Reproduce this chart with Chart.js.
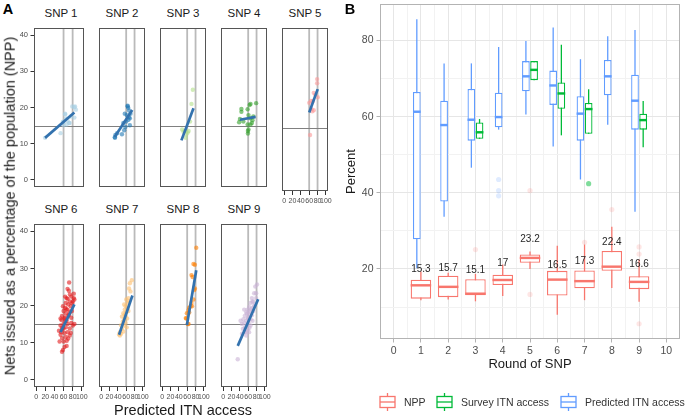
<!DOCTYPE html>
<html><head><meta charset="utf-8">
<script src="https://cdn.jsdelivr.net/npm/chart.js@4.4.1/dist/chart.umd.min.js"></script>
<style>
html,body{margin:0;padding:0;background:#fff;}
body{width:685px;height:416px;position:relative;overflow:hidden;font-family:"Liberation Sans",Arial,Helvetica,sans-serif;}
canvas{position:absolute;}
.t{position:absolute;white-space:nowrap;line-height:1;color:#1a1a1a;}
</style></head><body>
<script>
// ---------------- Panel A data ----------------
const snpNames = ['SNP 1','SNP 2','SNP 3','SNP 4','SNP 5','SNP 6','SNP 7','SNP 8','SNP 9'];
const snpColors = ['#a6cee3','#1f78b4','#b2df8a','#33a02c','#fb9a99','#e31a1c','#fdbf6f','#ff7f00','#cab2d6'];
const snp1X = [19.3,53.4,58.7,60.1,66.8,72.3,63.5,65.6,75.8,79.1,83.8,87.2,83.8,68.9,63.5,85.2,60.0,73.3];
const snp1Y = [11.6,12.9,16.1,15.1,15.3,15.7,18.1,17.0,17.5,20.3,20.1,19.4,17.2,16.3,18.3,20.3,16.0,15.7];
const snp2X = [32.8,34.2,38.3,49.9,55.2,58.0,63.4,64.8,56.6,66.8,68.8,65.4,60.1,68.8,70.3,53.2,61.3,66.8,63.8,33.2];
const snp2Y = [11.8,12.4,12.9,12.6,13.7,14.6,20.5,19.9,18.3,17.4,17.0,16.6,16.1,15.1,18.3,15.7,17.9,19.2,20.3,11.6];
const snp3X = [73.5,70.3,66.8,47.9,54.6,61.3,58.0,63.4,56.6,51.1];
const snp3Y = [24.9,21.0,16.1,13.9,13.5,13.1,12.6,13.5,11.6,13.3];
const snp4X = [43.8,43.8,40.3,38.3,58.7,63.5,65.6,79.0,60.7,65.6,70.3,68.8,58.7,65.6,60.7,59.4,48.5,72.3,59.4];
const snp4Y = [19.6,18.8,16.8,15.9,19.5,20.7,21.0,21.2,17.9,17.0,16.5,15.7,15.3,15.3,13.9,12.8,16.1,17.5,13.5];
const snp5X = [79.0,79.0,70.9,74.3,80.4,64.1,60.1,68.8,65.4,70.9,62.1,67.4];
const snp5Y = [28.2,27.1,24.5,24.0,23.3,22.3,21.8,22.3,20.1,19.8,13.1,19.5];
const snp6X = [72.3,68.8,71.7,66.8,77.0,82.5,83.9,80.4,73.7,64.8,70.3,75.8,63.5,68.8,60.1,73.7,64.8,56.6,70.3,62.1,55.4,66.8,77.0,80.4,60.1,53.4,64.8,73.7,56.6,49.9,68.8,62.1,53.4,73.7,64.8,56.6,51.3,60.1,70.3,66.8,62.1,58.7,56.6,53.4,83.9,77.0,78.4,82.5,63.5,58.7,75.8,68.8,63.5,66.0,72.0,60.0,74.0,69.0,57.0,63.0,79.0,55.0,67.0];
const snp6Y = [26.2,24.5,24.0,22.0,22.4,23.2,21.6,21.1,21.1,20.7,20.3,19.8,19.4,18.9,18.5,18.2,17.9,17.2,17.2,16.5,16.1,15.9,15.3,14.6,15.0,14.6,14.1,13.8,13.5,13.2,12.8,12.6,12.1,11.9,11.5,11.2,10.3,10.3,11.1,9.1,8.8,8.0,7.5,16.5,15.0,16.7,18.5,22.0,22.4,19.8,12.6,15.0,15.9,19.0,17.5,13.8,23.0,21.8,14.0,16.8,20.6,12.8,10.5];
const snp7X = [73.5,68.8,66.8,70.3,65.4,60.1,63.4,58.7,63.4,56.6,60.1,53.2,58.7,49.9,55.2,62.1,51.9,58.7,47.9,54.6,49.9,45.0,53.2,43.0,47.9,45.0,65.4,56.6,61.3,66.8,55.2];
const snp7Y = [26.8,26.0,24.6,23.8,22.0,21.6,20.7,19.8,19.4,18.9,18.2,17.9,17.2,17.0,16.3,16.5,15.6,15.3,14.7,14.6,13.7,12.8,13.0,12.2,12.4,11.9,18.5,17.6,14.1,21.1,20.3];
const snp8X = [81.7,75.0,78.4,70.3,72.9,78.4,77.0,75.0,70.3,68.2,64.8,63.3,59.3,58.0,61.3,71.5,64.8,56.6,63.3];
const snp8Y = [35.6,31.2,31.0,28.2,27.7,24.6,24.2,21.6,20.7,19.8,19.4,18.8,17.9,16.5,15.0,19.8,18.1,16.6,15.0];
const snp9X = [81.1,77.0,74.3,68.8,79.0,72.3,65.6,75.8,62.1,70.3,58.7,65.6,55.4,62.1,68.8,52.0,58.7,48.5,65.6,55.4,60.7,50.5,45.2,56.6,65.6,52.0,47.3,58.7,54.0,62.1,45.2,55.4,35.0,72.3,79.0,70.3,50.5,41.8,60.0,67.0,63.0,57.0,70.0,53.0,74.0,61.0];
const snp9Y = [25.7,25.1,23.3,22.0,22.0,21.1,20.7,20.3,19.6,19.4,18.9,18.5,18.1,17.6,17.4,17.2,16.7,16.3,16.3,15.9,15.4,15.3,15.0,14.7,14.6,14.1,13.7,13.5,12.8,12.8,12.4,11.9,5.5,18.5,23.3,15.9,18.9,15.9,16.5,19.0,14.0,17.8,21.0,13.0,19.8,18.2];
// fitted lines: [x start, y start, x end, y end]
const fitLines = [[19.3,11.6,83.8,18.6],[32.8,11.9,74.5,19.3],[46.2,10.9,75.1,19.8],[40.3,16.6,77.8,17.4],[60.1,19.2,80.4,25.5],[53.4,12.8,83.9,20.3],[43.0,12.1,74.9,22.7],[59.3,14.7,81.7,29.5],[35.0,9.1,83.9,21.7]];
const aXTicks = [0,20,40,60,80,100];
const aYTicks = [0,10,20,30,40];
const accessRefs = [60,80];
const nppRef = 15;

// ---------------- Panel B data ----------------
const rounds = [1,2,3,4,5,6,7,8,9];
const nppLow  = [11.8,12.0,11.5,12.9,20.0,8.0,11.8,15.0,11.4];
const nppQ1   = [12.2,12.6,13.1,15.8,21.6,13.0,14.9,19.5,14.7];
const nppMed  = [15.7,15.3,13.5,17.1,22.9,17.2,16.8,20.6,16.6];
const nppQ3   = [17.15,18.2,17.3,18.5,23.8,19.5,19.6,24.7,18.1];
const nppHigh = [19.3,19.0,18.7,21.2,24.6,26.1,26.4,31.1,22.5];
const nppMean = [15.3,15.7,15.1,17,23.2,16.5,17.3,22.4,16.6];
const predLow  = [20.2,33.7,46.6,56.6,60.6,52.2,43.5,57.9,35.0];
const predQ1   = [27.8,37.7,53.7,57.2,66.7,63.1,53.7,65.6,56.6];
const predMed  = [61.3,57.8,59.2,59.9,70.6,68.2,60.8,70.6,64.2];
const predQ3   = [66.5,64.2,67.3,66.3,74.6,72.1,65.4,74.9,71.0];
const predHigh = [85.6,74.0,74.0,78.3,79.9,83.4,75.1,81.1,82.8];
const survRounds = [3,5,6,7,9];
const survLow  = [54.2,69.6,55.1,55.5,52.0];
const survQ1   = [54.2,69.6,62.1,55.5,56.6];
const survMed  = [55.9,72.3,66.1,62.0,59.1];
const survQ3   = [58.5,74.6,69.0,63.6,60.8];
const survHigh = [59.4,74.6,78.9,67.2,64.1];
const nppOutRound = [3,5,5,7,8,9,9,9];
const nppOutVal   = [25.1,13.3,40.6,27.0,35.6,25.8,23.9,5.6];
const predOutRound = [4,4,4];
const predOutVal   = [43.5,40.6,39.2];
const survOutRound = [7];
const survOutVal   = [42.4];
const bXTicks = [0,1,2,3,4,5,6,7,8,9,10];
const bYTicks = [20,40,60,80];
const bYMinor = [10,30,50,70];
const legendNames = ['NPP','Survey ITN access','Predicted ITN access'];
const groupColors = ['#F8766D','#00BA38','#619CFF'];

// ---------------- helpers ----------------
Chart.defaults.font.family = '"Liberation Sans", Arial, sans-serif';
Chart.defaults.animation = false;
function rgba(hex,a){const n=parseInt(hex.slice(1),16);return `rgba(${n>>16&255},${n>>8&255},${n&255},${a})`;}
function txt(s,cx,cy,size,extra){
  const d=document.createElement('div');d.className='t';d.textContent=s;
  d.style.fontSize=size+'px';d.style.left=cx+'px';d.style.top=cy+'px';
  d.style.transform='translate(-50%,-50%)'+(extra&&extra.rot?' rotate(-90deg)':'');
  if(extra&&extra.bold)d.style.fontWeight='bold';
  if(extra&&extra.color)d.style.color=extra.color;
  document.body.appendChild(d);return d;
}
function mkCanvas(l,t,w,h){const c=document.createElement('canvas');c.width=w;c.height=h;c.style.left=l+'px';c.style.top=t+'px';c.style.width=w+'px';c.style.height=h+'px';document.body.appendChild(c);return c;}

// ---------------- Panel A ----------------
const panelLeft=[34,95,156,217,278], rowTop=[24,220], PW=54, PH=167, YAW=20, XAH=16;
const snpX=[snp1X,snp2X,snp3X,snp4X,snp5X,snp6X,snp7X,snp8X,snp9X];
const snpY=[snp1Y,snp2Y,snp3Y,snp4Y,snp5Y,snp6Y,snp7Y,snp8Y,snp9Y];
const refPlugin={id:'refs',
  beforeDatasetsDraw(ch){const {ctx,chartArea:a,scales:{x,y}}=ch;ctx.save();
    ctx.strokeStyle='#bababa';ctx.lineWidth=1.8;
    accessRefs.forEach(v=>{const p=x.getPixelForValue(v);ctx.beginPath();ctx.moveTo(p,a.top);ctx.lineTo(p,a.bottom);ctx.stroke();});
    ctx.strokeStyle='#808080';ctx.lineWidth=1;const q=Math.round(y.getPixelForValue(nppRef))+0.5;
    ctx.beginPath();ctx.moveTo(a.left,q);ctx.lineTo(a.right,q);ctx.stroke();ctx.restore();},
  afterDatasetsDraw(ch){const {ctx,chartArea:a}=ch;ctx.save();ctx.strokeStyle='#555';ctx.lineWidth=1;
    ctx.strokeRect(a.left+0.5,a.top+0.5,a.right-a.left-1,a.bottom-a.top-1);ctx.restore();}
};
for(let i=0;i<9;i++){
  const row=i<5?0:1, col=i<5?i:i-5;
  const L=panelLeft[col], T=rowTop[row];
  const showY=col===0, showX=(row===1||i===4);
  const cv=mkCanvas(L-(showY?YAW:0),T,PW+(showY?YAW:0),PH+(showX?XAH:0));
  const fl=fitLines[i];
  new Chart(cv,{type:'scatter',
    data:{datasets:[
      {type:'line',data:[{x:fl[0],y:fl[1]},{x:fl[2],y:fl[3]}],borderColor:'#3372ae',borderWidth:2.7,pointRadius:0,fill:false,order:0},
      {data:snpX[i].map((v,k)=>({x:v,y:snpY[i][k]})),backgroundColor:rgba(snpColors[i],0.6),borderWidth:0,pointRadius:2.2,order:1}
    ]},
    options:{responsive:false,devicePixelRatio:1,animation:false,layout:{padding:0},
      plugins:{legend:{display:false},tooltip:{enabled:false}},
      scales:{
        x:{type:'linear',min:-5,max:105,display:showX,
          afterBuildTicks:s=>{s.ticks=aXTicks.map(v=>({value:v}));},
          afterFit:s=>{s.height=showX?XAH:0;s.paddingLeft=0;s.paddingRight=0;},
          ticks:{autoSkip:false,maxRotation:0,padding:1.5,color:'#4d4d4d',font:{size:7}},
          grid:{drawOnChartArea:false,tickLength:4,tickColor:'#333'},border:{display:false}},
        y:{type:'linear',min:-2,max:42,display:showY,
          afterBuildTicks:s=>{s.ticks=aYTicks.map(v=>({value:v}));},
          afterFit:s=>{s.width=showY?YAW:0;s.paddingTop=0;s.paddingBottom=0;},
          ticks:{padding:2.5,color:'#4d4d4d',font:{size:7.5}},
          grid:{drawOnChartArea:false,tickLength:3.5,tickColor:'#333'},border:{display:false}}
      }},
    plugins:[refPlugin]});
  txt(snpNames[i],L+PW/2,row===0?13.5:210,11.5);
}
txt('A',8,9,14.5,{bold:true,color:'#000'});
txt('Nets issued as a percentage of the population (NPP)',10,206,14.5,{rot:true});
txt('Predicted ITN access',183,410,14.5);

// ---------------- Panel B ----------------
const predOff=-0.15, survOff=0.15, MH=0.32;
function boxSets(name,color,xs,lo,q1,md,q3,hi,w){
  const c={type:'bar',stack:'box',grouped:true,borderSkipped:false,inflateAmount:0,borderRadius:0};
  return [
    Object.assign({},c,{label:name+' whisker',data:xs.map((x,i)=>({x,y:[lo[i],hi[i]]})),backgroundColor:color,barThickness:1.3,order:30}),
    Object.assign({},c,{label:name,data:xs.map((x,i)=>({x,y:[q1[i],q3[i]]})),backgroundColor:'#ffffff',borderColor:color,borderWidth:1.3,barThickness:w,order:20}),
    Object.assign({},c,{label:name+' median',data:xs.map((x,i)=>({x,y:[md[i]-MH,md[i]+MH]})),backgroundColor:color,barThickness:w,order:10})
  ];
}
const bDatasets=[].concat(
  boxSets('NPP',groupColors[0],rounds,nppLow,nppQ1,nppMed,nppQ3,nppHigh,20.5),
  boxSets('Survey ITN access',groupColors[1],survRounds.map(r=>r+survOff),survLow,survQ1,survMed,survQ3,survHigh,7.7),
  boxSets('Predicted ITN access',groupColors[2],rounds.map(r=>r+predOff),predLow,predQ1,predMed,predQ3,predHigh,7.7),
  [
   {type:'scatter',data:nppOutRound.map((r,i)=>({x:r,y:nppOutVal[i]})),backgroundColor:rgba(groupColors[0],0.18),borderWidth:0,pointRadius:2.6,order:5},
   {type:'scatter',data:predOutRound.map((r,i)=>({x:r+predOff,y:predOutVal[i]})),backgroundColor:rgba(groupColors[2],0.2),borderWidth:0,pointRadius:2.6,order:5},
   {type:'scatter',data:survOutRound.map((r,i)=>({x:r+survOff,y:survOutVal[i]})),backgroundColor:rgba(groupColors[1],0.5),borderWidth:0,pointRadius:2.6,order:5}
  ]);
const bFrame={id:'bframe',
  afterDatasetsDraw(ch){const {ctx,chartArea:a,scales:{x,y}}=ch;ctx.save();
    ctx.fillStyle='#262626';ctx.font='10px "Liberation Sans", Arial, sans-serif';ctx.textAlign='center';ctx.textBaseline='middle';
    rounds.forEach((r,i)=>ctx.fillText(String(nppMean[i]),x.getPixelForValue(r),y.getPixelForValue(nppMean[i]+4.6)));
    ctx.strokeStyle='#b3b3b3';ctx.lineWidth=1;ctx.strokeRect(a.left+0.5,a.top+0.5,a.right-a.left-1,a.bottom-a.top-1);ctx.restore();}
};
const bcv=mkCanvas(340,0,345,380);
new Chart(bcv,{type:'bar',data:{datasets:bDatasets},
  options:{responsive:false,devicePixelRatio:1,animation:false,layout:{padding:{top:1,right:5,left:0,bottom:0}},
    plugins:{legend:{display:false},tooltip:{enabled:false}},
    scales:{
      x:{type:'linear',min:-0.5,max:10.5,offset:false,
        afterBuildTicks:s=>{const t=[];bXTicks.forEach(v=>{t.push({value:v});if(v<10)t.push({value:v+0.5});});s.ticks=t;},
        afterFit:s=>{s.height=41;s.paddingLeft=0;s.paddingRight=0;},
        ticks:{autoSkip:false,maxRotation:0,padding:2,color:'#4d4d4d',font:{size:10.5},callback:v=>Number.isInteger(v)?String(v):''},
        grid:{offset:false,tickLength:3.5,lineWidth:1,color:c=>Number.isInteger(c.tick.value)?'#e6e6e6':'#f2f2f2',tickColor:c=>Number.isInteger(c.tick.value)?'#b3b3b3':'rgba(0,0,0,0)'},
        border:{display:false},
        title:{display:true,text:'Round of SNP',color:'#1a1a1a',font:{size:13},padding:{top:0,bottom:7.6}}},
      y:{type:'linear',min:1.6,max:89.6,stacked:false,
        afterBuildTicks:s=>{s.ticks=bYMinor.concat(bYTicks).sort((a,b)=>a-b).map(v=>({value:v}));},
        afterFit:s=>{s.width=40;s.paddingTop=0;s.paddingBottom=0;},
        ticks:{padding:3,color:'#4d4d4d',font:{size:10.5},callback:v=>bYTicks.includes(v)?String(v):''},
        grid:{tickLength:3.5,lineWidth:1,color:c=>bYTicks.includes(c.tick.value)?'#e6e6e6':'#f2f2f2',tickColor:c=>bYTicks.includes(c.tick.value)?'#b3b3b3':'rgba(0,0,0,0)'},
        border:{display:false},
        title:{display:true,text:'Percent',color:'#1a1a1a',font:{size:13},padding:{top:4,bottom:0}}}
    }},
  plugins:[bFrame]});
txt('B',350,9,14.5,{bold:true,color:'#000'});

// legend for B
const legIconX=[379,436,560], legTextX=[404,461,585], legY=402;
legendNames.forEach((n,i)=>{
  const col=groupColors[i];
  const s=document.createElementNS('http://www.w3.org/2000/svg','svg');
  s.setAttribute('width','17');s.setAttribute('height','18');
  s.style.position='absolute';s.style.left=legIconX[i]+'px';s.style.top=(legY-9)+'px';
  s.innerHTML=`<line x1="8.5" y1="0" x2="8.5" y2="18" stroke="${col}" stroke-width="1.3"/><rect x="1" y="3.5" width="15" height="11" fill="#fff" stroke="${col}" stroke-width="1.3"/><line x1="1" y1="9" x2="16" y2="9" stroke="${col}" stroke-width="1.3"/>`;
  document.body.appendChild(s);
  const d=document.createElement('div');d.className='t';d.textContent=n;d.style.fontSize='10.5px';d.style.color='#333';
  d.style.left=legTextX[i]+'px';d.style.top=(legY-5.5)+'px';document.body.appendChild(d);
});
</script></body></html>
